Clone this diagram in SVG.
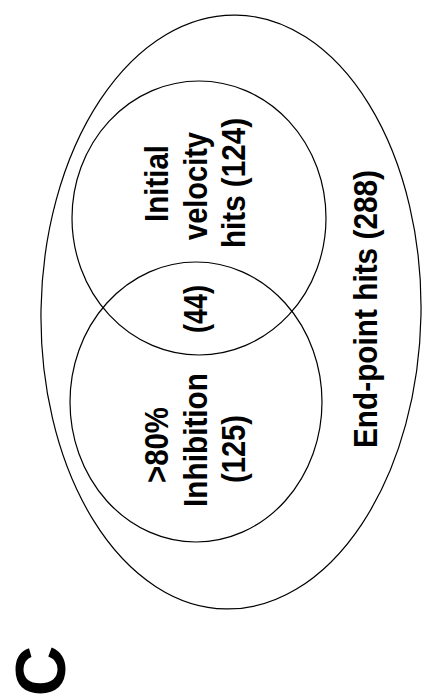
<svg xmlns="http://www.w3.org/2000/svg" width="423" height="698" viewBox="0 0 423 698">
<style>
.shape{fill:none;stroke:#000;stroke-width:1.2}
.lbl{font-family:"Liberation Sans",Arial,sans-serif;font-weight:bold;font-size:33px;fill:#000;text-anchor:middle}
</style>
<rect width="423" height="698" fill="#fff"/>
<g id="endpoint">
<ellipse class="shape" cx="231" cy="312" rx="190" ry="297" transform="rotate(1 231 312)"/>
<text class="lbl" transform="translate(377,309) rotate(-90)" textLength="278" lengthAdjust="spacingAndGlyphs">End-point hits (288)</text>
</g>
<g id="velocity">
<ellipse class="shape" cx="199" cy="218" rx="127" ry="137"/>
<text class="lbl" transform="translate(168,183.5) rotate(-90)" textLength="77" lengthAdjust="spacingAndGlyphs">Initial</text>
<text class="lbl" transform="translate(207,186) rotate(-90)" textLength="108" lengthAdjust="spacingAndGlyphs">velocity</text>
<text class="lbl" transform="translate(245,183) rotate(-90)" textLength="130" lengthAdjust="spacingAndGlyphs">hits (124)</text>
</g>
<g id="inhibition">
<ellipse class="shape" cx="196" cy="402" rx="126" ry="140"/>
<text class="lbl" transform="translate(168,445) rotate(-90)" textLength="76" lengthAdjust="spacingAndGlyphs">&gt;80%</text>
<text class="lbl" transform="translate(207,440) rotate(-90)" textLength="134" lengthAdjust="spacingAndGlyphs">Inhibition</text>
<text class="lbl" transform="translate(245,449) rotate(-90)" textLength="68" lengthAdjust="spacingAndGlyphs">(125)</text>
</g>
<g id="overlap">
<text class="lbl" transform="translate(207,309) rotate(-90)" textLength="48" lengthAdjust="spacingAndGlyphs">(44)</text>
</g>
<g id="connectors"></g>
<g id="panel-label">
<text transform="translate(65,671) rotate(-90)" font-family="Liberation Sans,Arial,sans-serif" font-weight="bold" font-size="70" text-anchor="middle">C</text>
</g>
</svg>
